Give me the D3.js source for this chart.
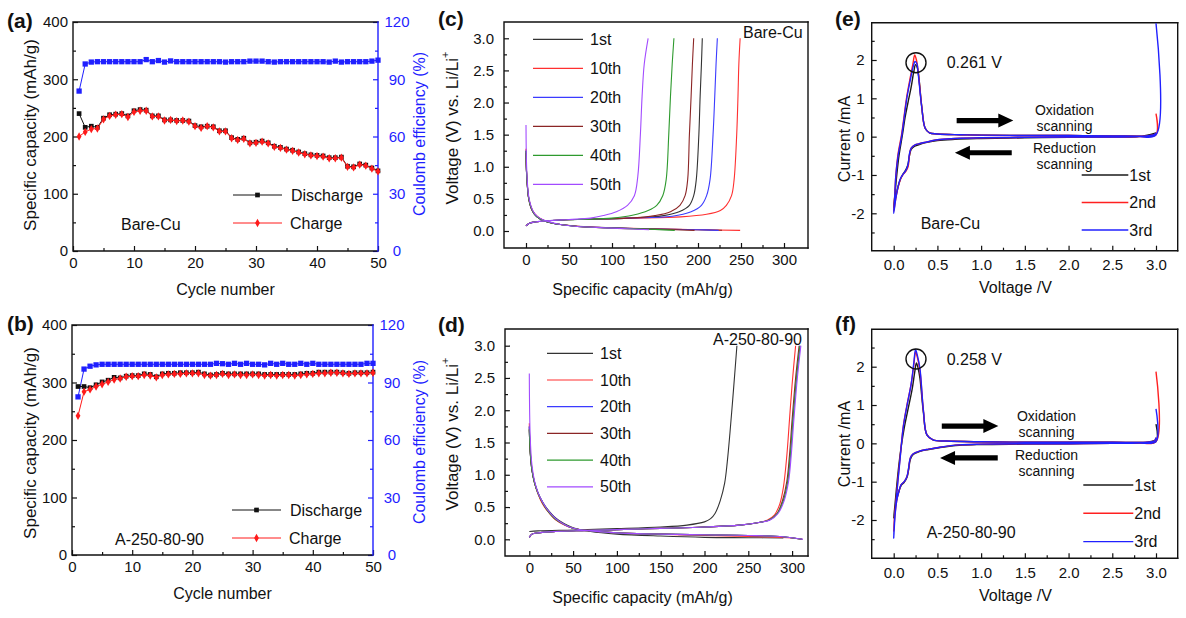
<!DOCTYPE html>
<html>
<head>
<meta charset="utf-8">
<script src="https://cdn.jsdelivr.net/npm/d3@7"></script>
<style>
  body { margin: 0; background: #fff; }
  svg { display: block; }
</style>
</head>
<body>
<script>
// ---- data ----
var cycleNo = d3.range(1, 51);

// (a) Bare-Cu cycling, mAh/g and %
var aDischarge = [240,216,218,216,232,238,239,240,236,245,247,246,236,236,229,229,228,228,227,219,
                  217,218,217,210,210,198,195,197,189,190,192,189,183,181,178,176,173,170,168,167,
                  166,163,163,164,148,147,152,150,145,140];
var aCharge    = [200,208,213,214,230,236,238,239,234,243,245,245,235,235,228,229,227,228,226,218,
                  215,218,216,209,209,197,194,196,188,189,191,188,182,180,177,175,172,169,167,166,
                  165,162,162,163,147,146,151,149,144,139];
var aCE        = [83.8,98,99,99.2,99.2,99.2,99.2,99.2,99.2,99.2,99.2,100.3,99.2,99.8,99,99.6,99.2,99.2,99.2,99.2,
                  99.2,99.2,99.2,99.2,99,99.2,99.2,99.2,99.5,99.5,99.5,99.2,99,99.2,99.2,99.2,99.2,99.2,99.2,99.2,
                  99.2,99,99.5,99,99.2,99.2,99.2,99.2,99.5,100];

// (b) A-250-80-90 cycling
var bDischarge = [293,293,291,296,301,304,309,308,311,312,312,315,314,310,315,316,316,317,317,317,
                  318,315,313,314,316,315,315,315,315,315,315,314,314,314,314,314,314,315,316,316,
                  318,318,318,318,317,316,317,317,317,318];
var bCharge    = [242,284,288,293,297,301,305,307,310,311,311,313,312,309,313,314,315,315,316,316,
                  316,313,312,313,315,313,314,313,313,314,313,312,313,312,313,313,312,313,314,315,
                  316,316,317,317,316,315,316,316,316,317];
var bCE        = [82.5,97,98.5,99.2,99.5,99.5,99.5,99.5,99.5,99.5,99.5,99.5,99.5,99.5,99.5,99.5,99.5,99.5,99.5,99.5,
                  99.5,99.5,99.5,100,99.8,99.5,100,99.5,100,99.5,99.5,99.2,100,99.5,100,99.5,99.5,100,99.5,100,
                  99.5,99.5,99.5,99.5,99.5,99.5,99.5,99.5,100,100];

// (c)/(d) voltage profiles: [capacity mAh/g, voltage V]
var cycleLabels = ["1st", "10th", "20th", "30th", "40th", "50th"];
var cycleColors = ["#333333", "#ff3030", "#3b3bff", "#8b2525", "#2e9a2e", "#a24bff"];

var cCharge = [
  [[0,0.08],[4,0.12],[10,0.14],[25,0.16],[60,0.18],[120,0.2],[160,0.24],[178,0.3],[190,0.4],[195,0.55],[198,0.8],[201,1.5],[202.5,2.1],[204,2.6],[205,3.0]],
  [[0,0.08],[4,0.12],[10,0.14],[25,0.16],[60,0.18],[120,0.2],[180,0.22],[210,0.26],[226,0.32],[233,0.4],[239,0.55],[242,0.8],[245,1.5],[246.5,2.1],[247.5,2.6],[249,3.0]],
  [[0,0.08],[4,0.12],[10,0.14],[25,0.16],[60,0.18],[120,0.2],[170,0.23],[192,0.3],[204,0.4],[210,0.55],[214,0.8],[217.5,1.5],[219.5,2.1],[221,2.6],[222.5,3.0]],
  [[0,0.08],[4,0.12],[10,0.14],[25,0.16],[60,0.18],[120,0.2],[150,0.24],[168,0.3],[179,0.4],[185,0.55],[188,0.8],[190,1.5],[192,2.1],[193.5,2.6],[195,3.0]],
  [[0,0.08],[4,0.12],[10,0.14],[25,0.16],[60,0.18],[100,0.2],[125,0.25],[142,0.32],[152,0.4],[159,0.55],[163,0.8],[166,1.5],[168,2.1],[170,2.6],[172,3.0]],
  [[0,0.08],[4,0.12],[10,0.14],[25,0.16],[50,0.18],[75,0.2],[90,0.24],[105,0.3],[118,0.4],[126,0.55],[130,0.85],[133,1.5],[135,2.1],[137.5,2.6],[142,3.0]]
];
var cDischarge = [
  [[0,1.25],[0.5,0.95],[1.5,0.72],[3,0.52],[6,0.36],[10,0.26],[16,0.19],[25,0.14],[40,0.1],[60,0.075],[100,0.05],[150,0.03],[200,0.02],[228,0.01]],
  [[0,1.28],[0.5,0.97],[1.5,0.73],[3,0.53],[6,0.37],[10,0.27],[16,0.2],[25,0.145],[40,0.1],[60,0.075],[100,0.05],[150,0.035],[200,0.02],[249,0.01]],
  [[0,1.25],[0.5,0.95],[1.5,0.72],[3,0.52],[6,0.36],[10,0.26],[16,0.19],[25,0.14],[40,0.1],[60,0.07],[100,0.05],[150,0.03],[200,0.02],[224,0.01]],
  [[0,1.22],[0.5,0.94],[1.5,0.71],[3,0.51],[6,0.35],[10,0.26],[16,0.19],[25,0.14],[40,0.1],[60,0.07],[100,0.045],[150,0.03],[196,0.01]],
  [[0,1.25],[0.5,0.95],[1.5,0.72],[3,0.52],[6,0.36],[10,0.26],[16,0.19],[25,0.14],[40,0.1],[60,0.07],[100,0.045],[150,0.025],[173,0.01]],
  [[0,1.65],[0.5,1.1],[1.5,0.78],[3,0.55],[6,0.38],[10,0.27],[16,0.2],[25,0.15],[40,0.1],[60,0.07],[100,0.045],[143,0.02]]
];

var dCharge = [
  [[0,0.12],[10,0.13],[50,0.145],[100,0.165],[150,0.19],[180,0.22],[200,0.27],[207,0.32],[212,0.4],[218,0.6],[223,0.87],[226,1.2],[229,1.64],[233,2.3],[237,3.0]],
  [[0,0.03],[3,0.08],[10,0.1],[30,0.12],[60,0.135],[100,0.15],[150,0.17],[200,0.19],[240,0.22],[262,0.26],[272,0.3],[280,0.38],[286,0.55],[290,0.8],[294,1.3],[297,1.85],[300,2.4],[304,3.0]],
  [[0,0.03],[3,0.08],[10,0.1],[30,0.12],[60,0.135],[100,0.15],[150,0.17],[200,0.19],[240,0.22],[262,0.26],[274,0.3],[283,0.4],[290,0.6],[295,0.9],[298,1.3],[301,1.85],[305,2.5],[309,3.0]],
  [[0,0.03],[3,0.08],[10,0.1],[30,0.12],[60,0.135],[100,0.15],[150,0.17],[200,0.19],[240,0.22],[262,0.26],[274,0.3],[283,0.4],[289,0.6],[294,0.9],[297,1.3],[300,1.85],[304,2.5],[308,3.0]],
  [[0,0.03],[3,0.08],[10,0.1],[30,0.12],[60,0.135],[100,0.15],[150,0.17],[200,0.19],[240,0.22],[262,0.26],[274,0.3],[283,0.4],[290,0.6],[295,0.9],[298,1.3],[301,1.85],[305,2.5],[309,3.0]],
  [[0,0.03],[3,0.08],[10,0.1],[30,0.12],[60,0.135],[100,0.15],[150,0.17],[200,0.19],[240,0.22],[262,0.26],[275,0.3],[284,0.4],[291,0.6],[296,0.9],[299,1.3],[302,1.85],[306,2.5],[310,3.0]]
];
var dDischarge = [
  [[0,1.75],[1,1.35],[3,1.08],[6,0.88],[10,0.72],[15,0.58],[20,0.48],[30,0.33],[40,0.24],[50,0.18],[70,0.12],[100,0.08],[150,0.05],[200,0.03],[250,0.025],[290,0.02]],
  [[0,1.8],[1,1.4],[3,1.1],[6,0.88],[10,0.7],[15,0.55],[20,0.45],[30,0.3],[40,0.22],[50,0.17],[70,0.13],[100,0.1],[150,0.08],[200,0.06],[250,0.045],[300,0.02],[312,0.0]],
  [[0,1.75],[1,1.38],[3,1.08],[6,0.88],[10,0.72],[15,0.58],[20,0.47],[30,0.32],[40,0.23],[50,0.17],[70,0.13],[100,0.1],[150,0.08],[200,0.07],[250,0.06],[290,0.04],[312,0.0]],
  [[0,1.7],[1,1.36],[3,1.07],[6,0.87],[10,0.71],[15,0.57],[20,0.46],[30,0.31],[40,0.23],[50,0.17],[70,0.13],[100,0.1],[150,0.08],[200,0.07],[250,0.06],[290,0.04],[311,0.0]],
  [[0,1.7],[1,1.36],[3,1.07],[6,0.87],[10,0.71],[15,0.57],[20,0.46],[30,0.31],[40,0.23],[50,0.17],[70,0.13],[100,0.1],[150,0.08],[200,0.07],[250,0.06],[290,0.04],[311,0.0]],
  [[0,2.57],[1,1.6],[3,1.15],[6,0.9],[10,0.72],[15,0.58],[20,0.47],[30,0.32],[40,0.23],[50,0.17],[70,0.13],[100,0.1],[150,0.08],[200,0.07],[250,0.06],[290,0.04],[312,0.0]]
];

// (e)/(f) cyclic voltammetry: [voltage V, current mA]
var cvLabels = ["1st", "2nd", "3rd"];
var cvColors = ["#1a1a1a", "#ff2020", "#2020ff"];

var eCV = [
  [[3.0,0.1],[2.8,0.0],[2.5,-0.01],[2.0,-0.02],[1.5,-0.03],[1.0,-0.05],[0.7,-0.07],[0.5,-0.1],[0.38,-0.15],[0.3,-0.2],[0.24,-0.25],[0.2,-0.33],[0.18,-0.5],[0.16,-0.75],[0.13,-0.9],[0.1,-1.0],[0.07,-1.15],[0.045,-1.35],[0.02,-1.6],[0.0,-1.85],
   [0.015,-1.5],[0.035,-1.0],[0.06,-0.5],[0.1,0.05],[0.13,0.5],[0.16,0.85],[0.2,1.3],[0.23,1.7],[0.25,1.88],[0.27,1.8],[0.29,1.5],[0.32,0.8],[0.36,0.22],[0.41,0.1],[0.5,0.07],[0.76,0.05],[1.0,0.04],[1.5,0.03],[2.0,0.03],[2.5,0.02],[2.9,0.02],[3.0,0.05]],
  [[3.0,0.6],[3.0,0.05],[2.8,0.0],[2.5,-0.01],[2.0,-0.01],[1.5,-0.02],[1.0,-0.03],[0.7,-0.05],[0.5,-0.08],[0.38,-0.14],[0.3,-0.18],[0.24,-0.22],[0.2,-0.3],[0.18,-0.48],[0.165,-0.78],[0.14,-0.9],[0.11,-0.98],[0.08,-1.1],[0.05,-1.32],[0.025,-1.6],[0.0,-1.95],
   [0.01,-1.6],[0.025,-1.0],[0.05,-0.45],[0.09,0.05],[0.12,0.55],[0.15,1.05],[0.19,1.55],[0.22,1.9],[0.24,2.13],[0.26,2.0],[0.28,1.7],[0.32,0.8],[0.36,0.22],[0.41,0.1],[0.5,0.07],[0.76,0.05],[1.0,0.04],[1.5,0.03],[2.0,0.03],[2.5,0.02],[2.9,0.02],[2.98,0.05],[3.0,0.1]],
  [[3.0,2.96],[3.0,0.05],[2.8,0.0],[2.5,-0.01],[2.0,-0.01],[1.5,-0.02],[1.0,-0.03],[0.7,-0.05],[0.5,-0.08],[0.38,-0.14],[0.3,-0.18],[0.24,-0.22],[0.2,-0.3],[0.18,-0.45],[0.165,-0.72],[0.14,-0.88],[0.11,-0.97],[0.08,-1.08],[0.05,-1.3],[0.025,-1.6],[0.0,-2.0],
   [0.01,-1.65],[0.025,-1.0],[0.05,-0.5],[0.09,0.0],[0.12,0.5],[0.15,1.0],[0.19,1.48],[0.22,1.8],[0.245,1.96],[0.265,1.9],[0.28,1.65],[0.32,0.78],[0.36,0.22],[0.41,0.1],[0.5,0.07],[0.76,0.05],[1.0,0.04],[1.5,0.03],[2.0,0.03],[2.5,0.02],[2.9,0.02],[2.98,0.05],[3.0,0.1]]
];
var fCV = [
  [[3.0,0.5],[3.0,0.05],[2.8,0.01],[2.5,0.0],[2.0,-0.01],[1.5,-0.02],[1.0,-0.03],[0.75,-0.05],[0.53,-0.11],[0.4,-0.16],[0.3,-0.21],[0.22,-0.3],[0.19,-0.42],[0.17,-0.7],[0.15,-0.9],[0.12,-1.02],[0.085,-1.1],[0.06,-1.25],[0.035,-1.45],[0.015,-1.7],[0.0,-1.95],
   [0.015,-1.6],[0.035,-1.1],[0.06,-0.55],[0.085,-0.1],[0.12,0.4],[0.16,0.85],[0.21,1.4],[0.24,1.85],[0.26,2.1],[0.28,1.95],[0.3,1.7],[0.34,0.8],[0.38,0.22],[0.45,0.09],[0.6,0.06],[1.0,0.04],[1.5,0.03],[2.0,0.03],[2.5,0.03],[2.9,0.03],[3.0,0.08]],
  [[3.0,1.87],[3.0,0.05],[2.8,0.01],[2.5,0.0],[2.0,-0.01],[1.5,-0.01],[1.0,-0.02],[0.75,-0.04],[0.53,-0.1],[0.4,-0.15],[0.3,-0.2],[0.22,-0.28],[0.19,-0.38],[0.17,-0.66],[0.15,-0.88],[0.12,-1.0],[0.085,-1.08],[0.06,-1.25],[0.034,-1.5],[0.015,-1.85],[0.0,-2.3],
   [0.01,-1.9],[0.03,-1.4],[0.05,-0.9],[0.072,-0.4],[0.11,0.45],[0.15,0.98],[0.2,1.55],[0.23,2.05],[0.25,2.38],[0.27,2.25],[0.3,1.9],[0.34,0.85],[0.38,0.22],[0.45,0.09],[0.6,0.06],[1.0,0.04],[1.5,0.03],[2.0,0.03],[2.5,0.03],[2.9,0.03],[2.98,0.06],[3.0,0.15]],
  [[3.0,0.9],[3.0,0.05],[2.8,0.01],[2.5,0.0],[2.0,-0.01],[1.5,-0.01],[1.0,-0.02],[0.75,-0.04],[0.53,-0.1],[0.4,-0.15],[0.3,-0.2],[0.22,-0.28],[0.19,-0.38],[0.17,-0.65],[0.15,-0.88],[0.12,-1.0],[0.085,-1.08],[0.06,-1.25],[0.034,-1.5],[0.015,-1.9],[0.0,-2.48],
   [0.01,-2.0],[0.03,-1.45],[0.05,-0.95],[0.072,-0.43],[0.11,0.43],[0.15,0.96],[0.2,1.55],[0.23,2.1],[0.25,2.45],[0.27,2.3],[0.3,1.95],[0.34,0.85],[0.38,0.22],[0.45,0.09],[0.6,0.06],[1.0,0.04],[1.5,0.03],[2.0,0.03],[2.5,0.03],[2.9,0.03],[2.98,0.06],[3.0,0.15]]
];

// ---- drawing ----
var FONT = '"Liberation Sans", Arial, Helvetica, sans-serif';
var BLUE = "#1f1fff";

var svg = d3.select("body").append("svg")
  .attr("width", 1186).attr("height", 618)
  .style("font-family", FONT);

function frame(x0, x1, y0, y1, rightColor) {
  svg.append("path")
    .attr("d", "M" + x1 + "," + y0 + "H" + x0 + "V" + y1 + "H" + x1)
    .attr("fill", "none").attr("stroke", "#111").attr("stroke-width", 1.4)
    .attr("stroke-linecap", "square");
  svg.append("line")
    .attr("x1", x1).attr("x2", x1).attr("y1", y0).attr("y2", y1)
    .attr("stroke", rightColor || "#111").attr("stroke-width", 1.4)
    .attr("stroke-linecap", "square");
}

function axis(kind, scale, tx, ty, majors, minors, fmt, pad, color, anchor) {
  var make = { left: d3.axisLeft, right: d3.axisRight, bottom: d3.axisBottom }[kind];
  color = color || "#111";
  var g = svg.append("g").attr("transform", "translate(" + tx + "," + ty + ")");
  g.append("g").call(make(scale).tickValues(majors).tickFormat(fmt)
    .tickSizeInner(-5).tickSizeOuter(0).tickPadding(pad));
  g.append("g").call(make(scale).tickValues(minors).tickFormat("")
    .tickSizeInner(-3).tickSizeOuter(0));
  g.selectAll(".domain").remove();
  g.selectAll("g").attr("font-family", null).attr("font-size", null);
  g.selectAll(".tick line").attr("stroke", color).attr("stroke-width", 1.2);
  g.selectAll(".tick text").attr("fill", color).style("font-size", "15px");
  if (anchor) g.selectAll(".tick text").attr("text-anchor", anchor);
}

function label(txt, x, y, opts) {
  opts = opts || {};
  var t = svg.append("text")
    .attr("x", x).attr("y", y)
    .attr("text-anchor", opts.anchor || "start")
    .attr("dominant-baseline", "central")
    .attr("fill", opts.color || "#111")
    .style("font-size", (opts.size || 16) + "px")
    .style("font-weight", opts.bold ? "bold" : "normal")
    .text(txt);
  if (opts.rotate) t.attr("transform", "rotate(-90," + x + "," + y + ")");
  return t;
}

function panelLabel(txt, x, y) { label(txt, x, y, { size: 21, bold: true }); }

// ---------- cycling panels (a), (b) ----------
function cyclingPanel(p) {
  var x = d3.scaleLinear().domain([0, 50]).range([p.x0, p.x1]);
  var y = d3.scaleLinear().domain([0, 400]).range([p.y1, p.y0]);
  var y2 = d3.scaleLinear().domain([0, 120]).range([p.y1, p.y0]);

  axis("left", y, p.x0, 0, [0, 100, 200, 300, 400], [50, 150, 250, 350], d3.format("d"), 5);
  axis("bottom", x, 0, p.y1, [0, 10, 20, 30, 40, 50], [5, 15, 25, 35, 45], d3.format("d"), 6);
  axis("right", y2, p.x1, 0, [0, 30, 60, 90, 120], [15, 45, 75, 105], d3.format("d"), 19, BLUE, "middle");
  frame(p.x0, p.x1, p.y0, p.y1, BLUE);

  var line = function (vals, sc) {
    return d3.line().x(function (d, i) { return x(cycleNo[i]); })
      .y(function (d) { return sc(d); })(vals);
  };
  var sq = d3.symbol().type(d3.symbolSquare).size(22);
  var sqBig = d3.symbol().type(d3.symbolSquare).size(28);
  var dia = d3.symbol().type(d3.symbolDiamond).size(20);

  // coulombic efficiency
  svg.append("path").attr("d", line(p.ce, y2)).attr("fill", "none")
    .attr("stroke", BLUE).attr("stroke-width", 1);
  svg.append("g").selectAll("path").data(p.ce).join("path")
    .attr("d", sqBig)
    .attr("transform", function (d, i) { return "translate(" + x(cycleNo[i]) + "," + y2(d) + ")"; })
    .attr("fill", BLUE);

  // discharge
  svg.append("path").attr("d", line(p.dis, y)).attr("fill", "none")
    .attr("stroke", "#111").attr("stroke-width", 1);
  svg.append("g").selectAll("path").data(p.dis).join("path")
    .attr("d", sq)
    .attr("transform", function (d, i) { return "translate(" + x(cycleNo[i]) + "," + y(d) + ")"; })
    .attr("fill", "#111");
  // charge
  svg.append("path").attr("d", line(p.chg, y)).attr("fill", "none")
    .attr("stroke", "#ff1a1a").attr("stroke-width", 1);
  svg.append("g").selectAll("path").data(p.chg).join("path")
    .attr("d", dia)
    .attr("transform", function (d, i) { return "translate(" + x(cycleNo[i]) + "," + y(d) + ")"; })
    .attr("fill", "#ff1a1a");

  // legend
  var lx0 = p.x0 + 160, lx1 = p.x0 + 209;
  svg.append("line").attr("x1", lx0).attr("x2", lx1).attr("y1", p.legY[0]).attr("y2", p.legY[0])
    .attr("stroke", "#111").attr("stroke-width", 1);
  svg.append("path").attr("d", sq).attr("fill", "#111")
    .attr("transform", "translate(" + (lx0 + lx1) / 2 + "," + p.legY[0] + ")");
  svg.append("line").attr("x1", lx0).attr("x2", lx1).attr("y1", p.legY[1]).attr("y2", p.legY[1])
    .attr("stroke", "#ff1a1a").attr("stroke-width", 1);
  svg.append("path").attr("d", dia).attr("fill", "#ff1a1a")
    .attr("transform", "translate(" + (lx0 + lx1) / 2 + "," + p.legY[1] + ")");
  label("Discharge", lx1 + 9, p.legY[0]);
  label("Charge", lx1 + 8, p.legY[1]);
  label(p.name, p.nameX, p.legY[1] + 1);

  label("Specific capacity (mAh/g)", 30, p.titleY, { anchor: "middle", rotate: true, size: 17 });
  label("Coulomb efficiency (%)", 419, p.titleY - 1, { anchor: "middle", rotate: true, size: 16, color: BLUE });
  label("Cycle number", (p.x0 + p.x1) / 2, p.y1 + 38, { anchor: "middle", size: 16 });
}

cyclingPanel({ x0: 73, x1: 378, y0: 22, y1: 251, dis: aDischarge, chg: aCharge, ce: aCE,
  legY: [195, 223], name: "Bare-Cu", nameX: 121, titleY: 135 });
cyclingPanel({ x0: 72, x1: 373, y0: 325, y1: 555, dis: bDischarge, chg: bCharge, ce: bCE,
  legY: [510, 538], name: "A-250-80-90", nameX: 115, titleY: 443 });
panelLabel("(a)", 7, 20);
panelLabel("(b)", 7, 323);

// ---------- voltage profile panels (c), (d) ----------
function profilePanel(p) {
  var x = d3.scaleLinear().domain([0, 250]).range([p.xz, p.x250]);
  var y = d3.scaleLinear().domain([0, 3]).range([p.yz, p.y3]);

  axis("left", y, p.x0, 0, [0, 0.5, 1, 1.5, 2, 2.5, 3], [0.25, 0.75, 1.25, 1.75, 2.25, 2.75], d3.format(".1f"), 10);
  axis("bottom", x, 0, p.y1, [0, 50, 100, 150, 200, 250, 300], [25, 75, 125, 175, 225, 275], d3.format("d"), 6);
  frame(p.x0, p.x1, p.y0, p.y1);

  var line = d3.line().x(function (d) { return x(d[0]); }).y(function (d) { return y(d[1]); })
    .curve(d3.curveCatmullRom.alpha(0.5));
  cycleLabels.forEach(function (lab, i) {
    [p.dis[i], p.chg[i]].forEach(function (pts) {
      svg.append("path").attr("d", line(pts)).attr("fill", "none")
        .attr("stroke", cycleColors[i]).attr("stroke-width", 1.1);
    });
    var ly = p.legY0 + i * p.legDy;
    svg.append("line").attr("x1", p.legX0).attr("x2", p.legX1).attr("y1", ly).attr("y2", ly)
      .attr("stroke", cycleColors[i]).attr("stroke-width", 1.2);
    label(lab, p.legX1 + 7, ly);
  });

  label(p.name, p.nameX, p.nameY);
  var t = svg.append("text")
    .attr("transform", "translate(" + p.titleX + "," + p.titleY + ") rotate(-90)")
    .attr("text-anchor", "middle").attr("dominant-baseline", "central")
    .style("font-size", "17px").attr("fill", "#111");
  t.append("tspan").text("Voltage (V) vs. Li/Li");
  t.append("tspan").attr("dy", -7).style("font-size", "11px").text("+");
  label("Specific capacity (mAh/g)", 642.5, p.y1 + 41, { anchor: "middle", size: 16 });
}

profilePanel({ x0: 504, x1: 808, y0: 22, y1: 248, xz: 526, x250: 741, yz: 231, y3: 38.3,
  dis: cDischarge, chg: cCharge, legX0: 533, legX1: 583, legY0: 39.3, legDy: 29,
  name: "Bare-Cu", nameX: 743, nameY: 32.5, titleX: 452, titleY: 128 });
profilePanel({ x0: 505, x1: 808, y0: 329, y1: 556, xz: 529.3, x250: 748.3, yz: 539.3, y3: 345.7,
  dis: dDischarge, chg: dCharge, legX0: 547, legX1: 593, legY0: 353.3, legDy: 26.7,
  name: "A-250-80-90", nameX: 713, nameY: 339, titleX: 452, titleY: 434 });
panelLabel("(c)", 438, 18);
panelLabel("(d)", 438, 324);

// ---------- CV panels (e), (f) ----------
function arrow(x0, x1, yy) {
  // horizontal block arrow from x0 to x1 (tip at x1)
  var dir = x1 > x0 ? 1 : -1, head = 15, hw = 7, sw = 2.6;
  var xb = x1 - dir * head;
  svg.append("path")
    .attr("d", "M" + x0 + "," + (yy - sw) + "L" + xb + "," + (yy - sw) + "L" + xb + "," + (yy - hw) +
      "L" + x1 + "," + yy + "L" + xb + "," + (yy + hw) + "L" + xb + "," + (yy + sw) +
      "L" + x0 + "," + (yy + sw) + "Z")
    .attr("fill", "#000");
}

function cvPanel(p) {
  var x = d3.scaleLinear().domain([0, 3]).range([893.7, 1156]);
  var y = d3.scaleLinear().domain([-2, 2]).range([p.ym2, p.y2]);

  axis("left", y, p.x0, 0, [-2, -1, 0, 1, 2], [-2.5, -1.5, -0.5, 0.5, 1.5, 2.5], function (d) { return String(d); }, 7);
  axis("bottom", x, 0, p.y1, [0, 0.5, 1, 1.5, 2, 2.5, 3], [0.25, 0.75, 1.25, 1.75, 2.25, 2.75], d3.format(".1f"), 9);
  frame(p.x0, p.x1, p.y0, p.y1);

  var line = d3.line().x(function (d) { return x(d[0]); }).y(function (d) { return y(d[1]); })
    .curve(d3.curveCatmullRom.alpha(0.5));
  cvLabels.forEach(function (lab, i) {
    svg.append("path").attr("d", line(p.cv[i])).attr("fill", "none")
      .attr("stroke", cvColors[i]).attr("stroke-width", 1.4);
    var ly = p.legY0 + i * p.legDy;
    svg.append("line").attr("x1", p.legX0).attr("x2", p.legX1).attr("y1", ly).attr("y2", ly)
      .attr("stroke", cvColors[i]).attr("stroke-width", 1.4);
    label(lab, p.legX1 + 1, ly);
  });

  svg.append("circle").attr("cx", x(0.255)).attr("cy", y(p.circI)).attr("r", 10)
    .attr("fill", "none").attr("stroke", "#111").attr("stroke-width", 1.4);
  label(p.peak, 946.7, y(p.circI));

  arrow(x(p.ox[0]), x(p.ox[1]), y(p.ox[2]));
  arrow(x(p.red[0]), x(p.red[1]), y(p.red[2]));
  var ts = { anchor: "middle", size: 14 };
  label("Oxidation", p.txtX, p.txtY[0], ts);
  label("scanning", p.txtX, p.txtY[1], ts);
  label("Reduction", p.txtX, p.txtY[2], ts);
  label("scanning", p.txtX, p.txtY[3], ts);
  label(p.name, p.nameX, p.nameY);

  label("Current /mA", 844, p.titleY, { anchor: "middle", rotate: true, size: 16 });
  label("Voltage /V", 1015.5, p.y1 + 37, { anchor: "middle", size: 16 });
}

cvPanel({ x0: 871.7, x1: 1177.7, y0: 22.7, y1: 250.7, ym2: 213.3, y2: 60, cv: eCV,
  legX0: 1081.7, legX1: 1128.3, legY0: 175, legDy: 27.5, circI: 1.93, peak: "0.261 V",
  ox: [0.72, 1.368, 0.42], red: [1.35, 0.70, -0.42], txtX: 1064.5, txtY: [110, 126, 148, 164],
  name: "Bare-Cu", nameX: 920.7, nameY: 223, titleY: 139 });
cvPanel({ x0: 871.7, x1: 1177.7, y0: 329.3, y1: 558.3, ym2: 520, y2: 366.7, cv: fCV,
  legX0: 1083.3, legX1: 1133.3, legY0: 485, legDy: 28.3, circI: 2.2, peak: "0.258 V",
  ox: [0.55, 1.197, 0.45], red: [1.19, 0.53, -0.38], txtX: 1046.5, txtY: [416, 432, 455, 471],
  name: "A-250-80-90", nameX: 926.7, nameY: 532.5, titleY: 444 });
panelLabel("(e)", 835, 18);
panelLabel("(f)", 835, 323);
</script>
</body>
</html>
